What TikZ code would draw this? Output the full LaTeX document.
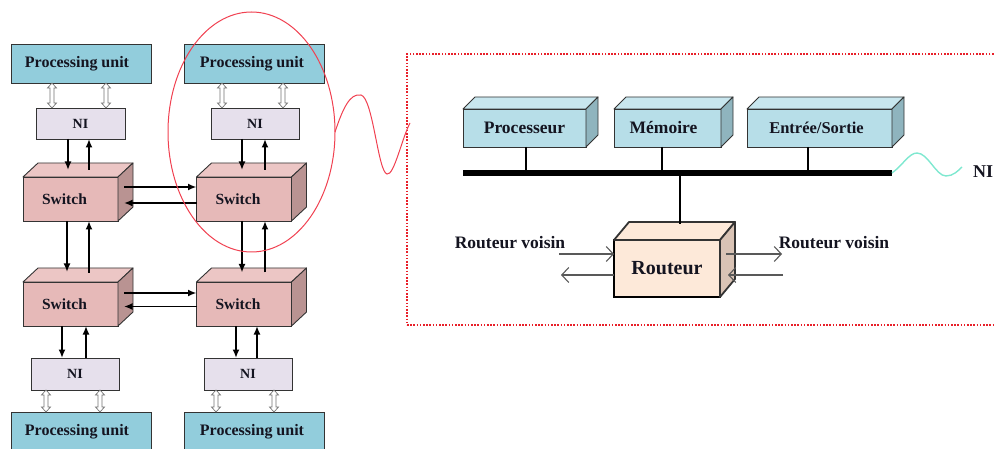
\documentclass[tikz,border=0pt]{standalone}
\usepackage{fontspec}
\setmainfont{Liberation Serif}
\usetikzlibrary{arrows.meta,shapes.geometric,calc}
\definecolor{pucol}{HTML}{92CDDC}
\definecolor{nicol}{HTML}{E6E0EC}
\definecolor{swfront}{HTML}{E6B9B8}
\definecolor{swtop}{HTML}{ECC6C5}
\definecolor{swside}{HTML}{B99392}
\definecolor{bxfront}{HTML}{B7DEE8}
\definecolor{bxtop}{HTML}{C8E6EE}
\definecolor{bxside}{HTML}{8FB4BE}
\definecolor{rtfront}{HTML}{FDE9D9}
\definecolor{rtside}{HTML}{D9C3B5}
\definecolor{edgecol}{HTML}{333333}
\definecolor{txtcol}{HTML}{141420}
\definecolor{redline}{HTML}{F04050}
\definecolor{dotred}{HTML}{E8202A}
\definecolor{teal}{HTML}{7FE8D0}
\newcommand{\cubefaces}[6]{%
  \filldraw[draw=edgecol,line width=#6,fill=#4,line join=round]
    (#1.north west) -- ([shift={(#2,-#3)}]#1.north west) -- ([shift={(#2,-#3)}]#1.north east) -- (#1.north east) -- cycle;
  \filldraw[draw=edgecol,line width=#6,fill=#5,line join=round]
    (#1.north east) -- ([shift={(#2,-#3)}]#1.north east) -- ([shift={(#2,-#3)}]#1.south east) -- (#1.south east) -- cycle;
}
% hollow up-down arrow between two points (first one is the upper end)
\newcommand{\hollowud}[2]{%
  \path #1 coordinate (hua) #2 coordinate (hub);
  \filldraw[fill=white, draw=black!55, line width=0.7pt, line join=miter]
    let \p1=(hua), \p2=(hub) in
    (\x1,\y1) -- (\x1-4.5pt,\y1-5pt) -- (\x1-2pt,\y1-5pt) -- (\x1-2pt,\y2+5pt)
    -- (\x1-4.5pt,\y2+5pt) -- (\x1,\y2) -- (\x1+4.5pt,\y2+5pt) -- (\x1+2pt,\y2+5pt)
    -- (\x1+2pt,\y1-5pt) -- (\x1+4.5pt,\y1-5pt) -- cycle;
}
\begin{document}
\begin{tikzpicture}[x=1pt,y=-1pt,
  every node/.style={text=txtcol, inner sep=0pt, outer sep=0pt},
  pu/.style={draw=edgecol, fill=pucol, line width=0.9pt, minimum width=140, minimum height=39, font=\bfseries\fontsize{16}{18}\selectfont},
  nibox/.style={draw=edgecol, fill=nicol, line width=0.9pt, minimum width=89, minimum height=31, font=\bfseries\fontsize{14}{16}\selectfont},
  sw/.style={draw=edgecol, fill=swfront, line width=0.9pt, minimum width=95, minimum height=44, font=\bfseries\fontsize{15.5}{17}\selectfont},
  bx/.style={draw=edgecol, fill=bxfront, line width=0.9pt, minimum height=38, font=\bfseries\fontsize{17.5}{19}\selectfont},
  rtbox/.style={draw=black, fill=rtfront, line width=1.8pt, minimum width=106, minimum height=57, font=\bfseries\fontsize{20}{22}\selectfont},
  lbl/.style={font=\bfseries\fontsize{17.5}{20}\selectfont},
  arr/.style={line width=1.7pt, -{Latex[length=8.5pt,width=7pt]}},
  garr/.style={draw=black!65, line width=1.1pt, -{Straight Barb[length=7pt,width=15pt]}},
]
\useasboundingbox (0,0) rectangle (994,449);

% ---------- left grid ----------
\node[pu] (pu1) at (81,63.5) {Processing unit\hspace*{8pt}};
\node[pu] (pu2) at (254,63.5) {Processing unit\hspace*{4pt}};
\node[pu] (pu3) at (81,431.5) {Processing unit\hspace*{8pt}};
\node[pu] (pu4) at (254,431.5) {Processing unit\hspace*{4pt}};

\node[nibox] (ni1) at (80.5,123.5) {NI};
\node[nibox, minimum width=88] (ni2) at (255,123.5) {NI};
\node[nibox, minimum width=88, minimum height=32] (ni3) at (75,374) {NI};
\node[nibox, minimum width=88, minimum height=32] (ni4) at (248,374) {NI};

\node[sw] (sw1) at (70.5,199) {Switch\hspace*{12pt}};
\node[sw] (sw2) at (244,199) {Switch\hspace*{12pt}};
\node[sw] (sw3) at (70.5,304) {Switch\hspace*{12pt}};
\node[sw] (sw4) at (244,304) {Switch\hspace*{12pt}};
\cubefaces{sw1}{15}{14}{swtop}{swside}{0.9pt}
\cubefaces{sw2}{15}{14}{swtop}{swside}{0.9pt}
\cubefaces{sw3}{15}{14}{swtop}{swside}{0.9pt}
\cubefaces{sw4}{15}{14}{swtop}{swside}{0.9pt}

% hollow double arrows PU <-> NI
\hollowud{([xshift=-29]pu1.south)}{([xshift=-29]ni1.north)}
\hollowud{([xshift=25]pu1.south)}{([xshift=25]ni1.north)}
\hollowud{([xshift=-32]pu2.south)}{([xshift=-32]ni2.north)}
\hollowud{([xshift=29]pu2.south)}{([xshift=29]ni2.north)}
\hollowud{([xshift=-29]ni3.south)}{([xshift=-35]pu3.north)}
\hollowud{([xshift=25]ni3.south)}{([xshift=19]pu3.north)}
\hollowud{([xshift=-32]ni4.south)}{([xshift=-38]pu4.north)}
\hollowud{([xshift=26]ni4.south)}{([xshift=20]pu4.north)}

% NI <-> switch
\draw[arr] ([xshift=-12.5]ni1.south) -- ([xshift=-2.5,yshift=7]sw1.north);
\draw[arr] ([xshift=18.5,yshift=7]sw1.north) -- ([xshift=8.5]ni1.south);
\draw[arr] ([xshift=-13]ni2.south) -- ([xshift=-2,yshift=7]sw2.north);
\draw[arr] ([xshift=21,yshift=7]sw2.north) -- ([xshift=10]ni2.south);
\draw[arr] ([xshift=-8.5]sw3.south) -- ([xshift=-13]ni3.north);
\draw[arr] ([xshift=11]ni3.north) -- ([xshift=15.5]sw3.south);
\draw[arr] ([xshift=-8]sw4.south) -- ([xshift=-12]ni4.north);
\draw[arr] ([xshift=9]ni4.north) -- ([xshift=13]sw4.south);

% switch <-> switch
\draw[arr] ([xshift=6,yshift=12]sw1.east) -- ([yshift=12]sw2.west);
\draw[arr] ([yshift=-4]sw2.west) -- ([xshift=6,yshift=-4]sw1.east);
\draw[arr] ([xshift=6,yshift=11]sw3.east) -- ([yshift=11]sw4.west);
\draw[arr] ([yshift=-2.5]sw4.west) -- ([xshift=6,yshift=-2.5]sw3.east);
\draw[arr] ([xshift=-3.5]sw1.south) -- ([xshift=-3.5,yshift=10]sw3.north);
\draw[arr] ([xshift=18.5,yshift=9]sw3.north) -- ([xshift=18.5]sw1.south);
\draw[arr] ([xshift=-2]sw2.south) -- ([xshift=-2,yshift=9.5]sw4.north);
\draw[arr] ([xshift=21,yshift=9.5]sw4.north) -- ([xshift=21]sw2.south);

% red ellipse and wave
\node[draw=redline, line width=1pt, ellipse, minimum width=167, minimum height=240] (ell) at (251.5,132) {};
\node[draw=dotred, line width=2.3pt, dash pattern=on 1.6pt off 1.6pt, minimum width=593, minimum height=271] (frame) at (703.5,189.5) {};
\draw[redline, line width=1pt] (ell.east) .. controls (343,108) and (350,93) .. (361,95)
  .. controls (373,98) and (378,172) .. (387,174)
  .. controls (394,176) and (402,138) .. (410,123);

% ---------- right panel ----------
\node[bx, minimum width=123] (proc) at (524.5,128) {Processeur};
\node[bx, minimum width=107] (mem) at (667.5,128) {Mémoire\hspace*{8pt}};
\node[bx, minimum width=145, font=\bfseries\fontsize{16.5}{18}\selectfont] (es) at (819.5,128) {Entrée/Sortie\hspace*{6pt}};
\cubefaces{proc}{12}{12}{bxtop}{bxside}{0.9pt}
\cubefaces{mem}{12}{12}{bxtop}{bxside}{0.9pt}
\cubefaces{es}{12}{12}{bxtop}{bxside}{0.9pt}

\node[fill=black, minimum width=429, minimum height=6.5] (bus) at (677.5,173) {};
\draw[line width=1.4pt] ([xshift=1.5]proc.south) -- ([xshift=1.5]proc.south |- bus.north);
\draw[line width=1.4pt] ([xshift=-5.5]mem.south) -- ([xshift=-5.5]mem.south |- bus.north);
\draw[line width=1.4pt] ([xshift=-11.5]es.south) -- ([xshift=-11.5]es.south |- bus.north);

\node[rtbox] (rt) at (667,268.5) {Routeur};
\cubefaces{rt}{15}{18}{rtfront}{rtside}{1.8pt}
\coordinate (rtop) at ([xshift=13,yshift=16]rt.north);
\draw[line width=1.4pt] (rtop |- bus.south) -- (rtop);

\node[lbl] (rv1) at (510,243) {Routeur voisin};
\node[lbl] (rv2) at (834,243) {Routeur voisin};
\coordinate (lin) at (559,254);
\coordinate (lout) at (561,275);
\coordinate (rone) at (782,254);
\coordinate (rin) at (783,275);
\coordinate (rsa) at ([xshift=6]rt.east);
\coordinate (rsb) at ([xshift=8]rt.east);
\draw[garr] (lin) -- (lin -| rt.west);
\draw[garr] (lout -| rt.west) -- (lout);
\draw[garr] (rsa |- rone) -- (rone);
\draw[garr] (rin) -- (rsb |- rin);

\node[lbl, font=\bfseries\fontsize{18}{20}\selectfont] (nilab) at (983,172) {NI};
\coordinate (tealend) at (962,167);
\draw[teal, line width=1.4pt] (bus.east) .. controls (903,165) and (909,153) .. (917,153)
  .. controls (928,153) and (936,176) .. (946,176)
  .. controls (953,176) and (958,171) .. (tealend);
\end{tikzpicture}
\end{document}
